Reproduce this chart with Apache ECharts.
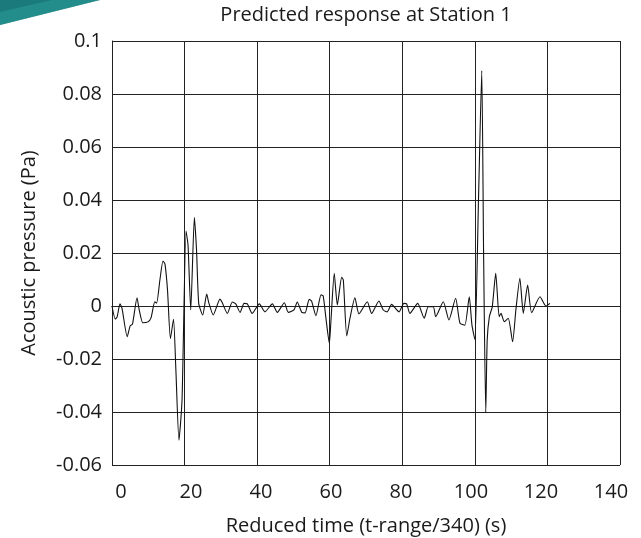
<!DOCTYPE html>
<html>
<head>
<meta charset="utf-8">
<script src="https://cdn.jsdelivr.net/npm/echarts@6/dist/echarts.min.js"></script>
<style>
html,body{margin:0;padding:0;background:#fff;}
#chart{width:641px;height:538px;}
</style>
</head>
<body>
<div id="chart"></div>
<script>
// Reduced time (s)
const timeValues = [0, 0.9, 1.4, 2.2, 2.75, 4.2, 5.0, 5.65, 6.9, 7.45, 8.5, 9.9, 10.75, 11.8, 12.3, 13.2, 14.05, 14.6, 15.3, 16.1, 16.95, 17.6, 18.45, 19.3, 20.4, 20.95, 21.7, 22.7, 23.3, 23.9, 25.0, 26.1, 26.7, 27.9, 29.75, 30.3, 31.8, 33.15, 34.1, 35.3, 36.4, 37.3, 38.65, 40.6, 42.15, 44.2, 45.55, 47.5, 48.6, 50.15, 51.05, 52.3, 53.2, 54.35, 55.0, 56.2, 57.6, 58.2, 58.95, 59.9, 60.35, 61.25, 62.1, 63.3, 63.75, 64.7, 65.6, 66.95, 68.05, 70.35, 71.55, 73.55, 74.75, 75.85, 77.05, 79.1, 80.45, 81.2, 82.1, 84.25, 86.05, 87.15, 88.55, 89.2, 91.3, 92.85, 94.7, 95.9, 97.25, 98.45, 99.2, 100.0, 101.0, 101.9, 102.4, 103.0, 103.4, 104.0, 104.8, 105.75, 106.7, 107.2, 108.1, 109.2, 110.4, 111.3, 112.4, 113.35, 114.55, 115.65, 117.95, 119.6, 120.7];
// Acoustic pressure (Pa)
const pressureValues = [0, -0.0049, -0.0042, 0.0008, -0.0008, -0.0116, -0.0075, -0.0068, 0.0031, -0.0011, -0.0063, -0.006, -0.0045, 0.0016, 0.0011, 0.0098, 0.017, 0.0158, 0.006, -0.0123, -0.005, -0.024, -0.0506, -0.0355, 0.0283, 0.023, -0.0015, 0.0335, 0.021, 0.001, -0.0034, 0.0045, 0.0011, -0.0034, 0.0026, 0.0015, -0.0028, 0.0015, 0.0008, -0.0024, 0.001, 0.0008, -0.0028, 0.0008, -0.0022, 0.0008, -0.0024, 0.0012, -0.0024, -0.0015, 0.0015, -0.0024, -0.0026, 0.0025, 0.0019, -0.0037, 0.0042, 0.0038, -0.0045, -0.0141, -0.0053, 0.0123, 0.0004, 0.0108, 0.0098, -0.0113, -0.0045, 0.0031, -0.003, 0.0016, -0.0028, 0.0019, -0.0015, -0.0022, 0.0006, -0.0022, 0.001, 0.0008, -0.0028, 0.001, -0.0046, -0.0003, -0.0003, -0.004, 0.0016, -0.0053, 0.0029, -0.0065, -0.0072, 0.0035, -0.0072, -0.0126, 0.04, 0.0888, 0.0211, -0.0403, -0.0128, -0.004, -0.0003, 0.0123, -0.004, -0.0028, -0.0059, -0.0046, -0.0135, -0.0015, 0.0105, -0.0028, 0.0079, -0.0025, 0.0035, 0, 0.001];
const xTickValues = [0, 20, 40, 60, 80, 100, 120, 140];
const xTickLabels = ['0', '20', '40', '60', '80', '100', '120', '140'];
const yTickLabels = ['-0.06', '-0.04', '-0.02', '0', '0.02', '0.04', '0.06', '0.08', '0.1'];

const FONT = '"Open Sans", "Noto Sans", sans-serif';
const chart = echarts.init(document.getElementById('chart'), null, {renderer: 'canvas'});
const seriesData = timeValues.map((t, i) => [t, pressureValues[i]]);

chart.setOption({
  animation: false,
  backgroundColor: '#ffffff',
  title: {
    text: 'Predicted response at Station 1',
    left: 361, top: 0, textAlign: 'center',
    textStyle: {fontFamily: FONT, fontSize: 20, fontWeight: 'normal', color: '#1a1a1a'}
  },
  graphic: [
    {type: 'polygon', shape: {points: [[0,0],[100,0],[0,25]]}, style: {fill: '#1b7b7c'}},
    {type: 'polygon', shape: {points: [[0,12],[52,0],[100,0],[0,25]]}, style: {fill: '#2a9a96', opacity: 0.6}}
  ],
  grid: {left: 112, right: 21, top: 41, bottom: 73, containLabel: false, outerBoundsMode: 'none'},
  xAxis: [{
    type: 'value', min: 0, max: 140, interval: 20,
    name: 'Reduced time (t-range/340) (s)', nameLocation: 'middle', nameGap: 51,
    nameTextStyle: {fontFamily: FONT, fontSize: 20, color: '#1a1a1a'},
    axisLine: {show: true, lineStyle: {color: '#222', width: 1}},
    axisTick: {show: false},
    axisLabel: {show: false},
    splitLine: {show: true, lineStyle: {color: '#222', width: 1}}
  }, {
    // label scale of the printed figure is slightly compressed relative to the grid
    type: 'value', position: 'bottom', min: -2.571, max: 142.57,
    axisLine: {show: false}, axisTick: {show: false}, splitLine: {show: false},
    axisLabel: {fontFamily: FONT, fontSize: 20, color: '#1a1a1a', margin: 17,
      customValues: xTickValues, showMinLabel: true, showMaxLabel: true,
      formatter: (v) => xTickLabels[xTickValues.indexOf(Math.round(v))]}
  }],
  yAxis: {
    type: 'value', min: -0.06, max: 0.1, interval: 0.02,
    name: 'Acoustic pressure (Pa)', nameLocation: 'middle', nameGap: 73,
    nameTextStyle: {fontFamily: FONT, fontSize: 20, color: '#1a1a1a'},
    axisLine: {show: true, lineStyle: {color: '#222', width: 1}},
    axisTick: {show: false},
    axisLabel: {fontFamily: FONT, fontSize: 20, color: '#1a1a1a', margin: 10,
      formatter: (v) => yTickLabels[Math.round((v + 0.06) / 0.02)]},
    splitLine: {show: true, lineStyle: {color: '#222', width: 1}}
  },
  series: [{
    type: 'line', xAxisIndex: 0, data: seriesData, showSymbol: false, smooth: 0.2,
    lineStyle: {color: '#111', width: 1.1}
  }]
});
</script>
</body>
</html>
